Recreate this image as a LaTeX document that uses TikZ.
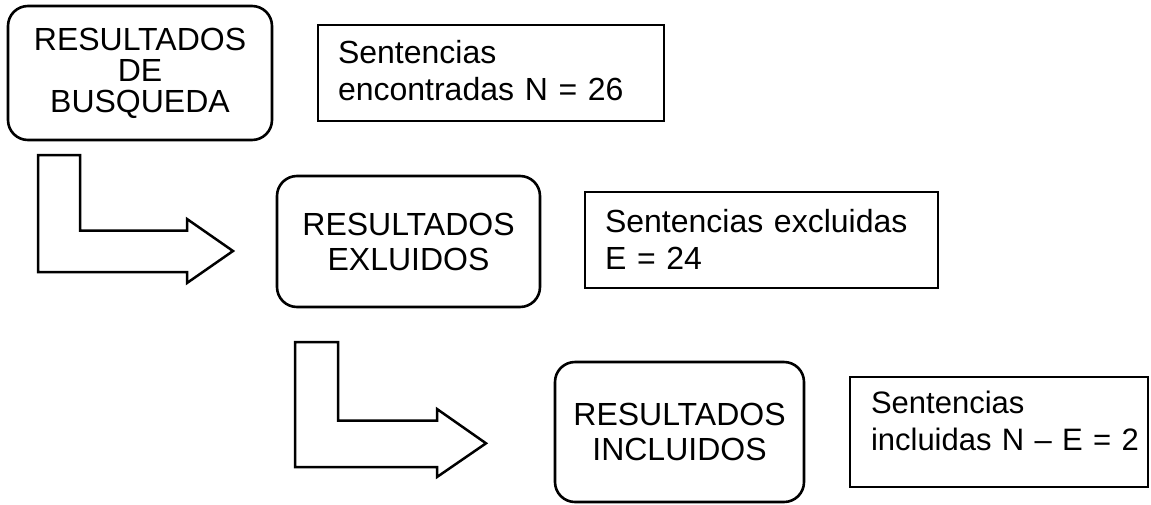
\documentclass[tikz,border=0pt]{standalone}
\usepackage{fontspec}
\setmainfont{Liberation Sans}
\usetikzlibrary{positioning}

\begin{document}
\begin{tikzpicture}[x=1pt, y=1pt, draw=black, node distance=46pt]
    \tikzstyle{res}=[draw, rounded corners=20pt, line width=2.6pt, outer sep=0pt, align=center, inner sep=0pt, font=\fontsize{32}{31}\selectfont]
    \tikzstyle{sent}=[draw, rectangle, line width=2pt, outer sep=0pt, align=left, inner xsep=20pt, inner ysep=0pt, font=\fontsize{32}{37}\selectfont]
    \tikzstyle{bent}=[draw, line width=2.5pt, line join=miter]

    \useasboundingbox (0,0) rectangle (1151,-504);

    % result blocks, stepping down to the right
	\node[res, anchor=north west, minimum width=264pt, minimum height=134pt] (busq) at (8,-6) {RESULTADOS\\DE\\BUSQUEDA};
    \node[res, below right=36pt and 5pt of busq, minimum width=263pt, minimum height=131pt, font=\fontsize{32}{35}\selectfont] (excl) {RESULTADOS\\EXLUIDOS};
    \node[res, below right=55pt and 15pt of excl, minimum width=249pt, minimum height=140pt, font=\fontsize{32}{35}\selectfont] (incl) {RESULTADOS\\INCLUIDOS};

    % counts beside each block
    \node[sent, right=46pt of busq, text width=306pt, minimum height=96pt, text depth=43pt] (nbusq) {Sentencias\\encontradas N = 26};
    \node[sent, right=45pt of excl, yshift=2pt, text width=313pt, minimum height=96pt] (nexcl) {Sentencias excluidas\\E = 24};
    \node[sent, right=46pt of incl, inner xsep=21pt, text width=256pt, minimum height=110pt, text depth=59pt, font=\fontsize{31}{37}\selectfont] (nincl) {Sentencias\\\mbox{incluidas N -- E = 2}};

    % bent block arrows
    \coordinate (a1) at ([shift={(30,-15)}]busq.south west);
    \coordinate (a2) at ([shift={(18,-35)}]excl.south west);
    \draw[bent] (a1) -- ++(42,0) -- ++(0,-75.5) -- ++(107,0) -- ++(0,11.5)
        -- ++(46,-32) -- ++(-46,-32) -- ++(0,11) -- ++(-149,0) -- cycle;
    \draw[bent] (a2) -- ++(43,0) -- ++(0,-78.7) -- ++(99,0) -- ++(0,11.7)
        -- ++(49,-34.3) -- ++(-49,-33.7) -- ++(0,10) -- ++(-142,0) -- cycle;
\end{tikzpicture}
\end{document}
